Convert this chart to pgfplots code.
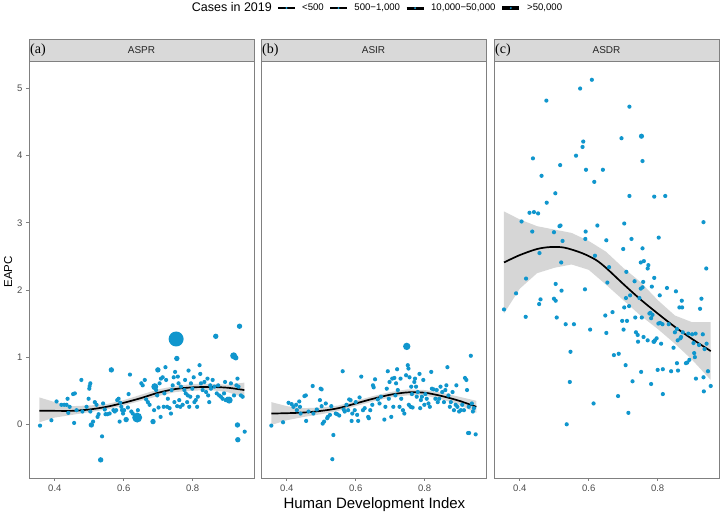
\documentclass[border=0pt]{standalone}
\usepackage{fontspec}
\setmainfont{Liberation Sans}
\newfontfamily\panelserif{Liberation Serif}
\usepackage{pgfplots}
\pgfplotsset{compat=1.18}
\definecolor{ptblue}{RGB}{16,150,205}
\definecolor{framegray}{RGB}{128,128,128}
\definecolor{stripfill}{RGB}{217,217,217}
\definecolor{ticktext}{RGB}{77,77,77}
\pgfplotsset{
 panel/.style={
  scale only axis, width=225pt, height=417pt, anchor=south west,
  xmin=0.325, xmax=0.978, ymin=-0.80, ymax=5.41,
  xtick={0.4,0.6,0.8}, xticklabels={0.4,0.6,0.8},
  tick align=outside, major tick length=3pt,
  xtick pos=bottom, ytick pos=left,
  axis line style={framegray, line width=0.9pt},
  tick style={framegray, line width=0.7pt},
  ticklabel style={font=\fontsize{9.5}{11}\selectfont, text=ticktext},
  /pgf/number format/assume math mode=true,
 },
 pts/.style={only marks, mark=*, mark size=#1, color=ptblue, mark options={solid, fill=ptblue, draw opacity=0}, forget plot},
 ribbon/.style={draw=none, fill=black!40, fill opacity=0.4, forget plot},
 fit/.style={black, line width=1.7pt, smooth, no marks, forget plot},
 key/.style={black, line width=#1, mark=*, mark size=1.1pt, mark options={solid, fill=ptblue, draw opacity=0}},
}
\begin{document}
\begin{tikzpicture}
\useasboundingbox (0,0) rectangle (723pt,519pt);
% ---------------- (a) ASPR
\begin{axis}[panel, name=pa, at={(29pt,41pt)}, ytick={0,1,2,3,4,5},
  ylabel={EAPC}, ylabel style={font=\fontsize{11.5}{13}\selectfont, at={(axis description cs:-0.093,0.494)}, anchor=center},
  legend style={at={(axis description cs:1.538,1.127)}, anchor=center, draw=none, fill=none,
    legend columns=-1, font=\fontsize{9.6}{11}\selectfont,
    /tikz/every odd column/.append style={column sep=4pt},
    /tikz/every even column/.append style={column sep=3pt}},
  legend cell align=left]
\addlegendimage{empty legend}
\addlegendimage{key=2.2pt}
\addlegendimage{key=2.6pt}
\addlegendimage{key=3.0pt}
\addlegendimage{key=3.6pt}
\addlegendentry{\fontsize{12.5}{14}\selectfont Cases in 2019}
\addlegendentry{<500}
\addlegendentry{500−1,000}
\addlegendentry{10,000−50,000}
\addlegendentry{>50,000}
\addplot[pts=2.1pt] coordinates {
(0.357,-0.02) (0.390,0.06) (0.405,0.34) (0.419,0.29) (0.427,0.29) (0.434,0.29) (0.437,0.38)
(0.443,0.26) (0.439,0.17) (0.453,0.45) (0.458,0.46) (0.456,0.02) (0.463,0.21) (0.477,0.66)
(0.480,0.19) (0.492,0.26) (0.498,0.38) (0.501,0.57) (0.503,0.61) (0.500,0.53) (0.503,0.19)
(0.511,0.04) (0.516,0.33) (0.521,0.29) (0.524,0.11) (0.527,0.15) (0.537,-0.18) (0.540,0.31)
(0.545,0.22) (0.547,0.15) (0.552,0.15) (0.559,0.16) (0.570,0.21) (0.574,0.19) (0.578,0.21)
(0.581,0.36) (0.585,0.38) (0.588,0.04) (0.590,0.32) (0.593,0.26) (0.595,0.21) (0.598,0.16)
(0.601,0.21) (0.612,0.25) (0.614,0.45) (0.618,0.74) (0.622,0.19) (0.626,0.16) (0.641,0.21)
(0.651,0.61) (0.655,0.58) (0.661,0.66) (0.665,0.37) (0.670,0.33) (0.675,0.29) (0.688,0.21)
(0.694,0.51) (0.697,0.43) (0.701,0.25) (0.704,0.61) (0.707,0.11) (0.708,0.68) (0.713,0.70)
(0.716,0.26) (0.718,0.46) (0.721,0.85) (0.723,0.66) (0.726,0.26) (0.728,0.38) (0.733,0.24)
(0.737,0.16) (0.739,0.51) (0.742,0.58) (0.745,0.70) (0.747,0.33) (0.749,0.78) (0.755,0.27)
(0.757,0.71) (0.759,0.61) (0.761,0.36) (0.764,0.26) (0.766,0.56) (0.771,0.29) (0.776,0.51)
(0.778,0.66) (0.780,0.46) (0.784,0.33) (0.786,0.43) (0.788,0.80) (0.790,0.26) (0.793,0.41)
(0.795,0.61) (0.799,0.53) (0.803,0.70) (0.805,0.33) (0.809,0.36) (0.813,0.26) (0.815,0.41)
(0.820,0.88) (0.822,0.75) (0.824,0.61) (0.829,0.51) (0.834,0.63) (0.839,0.48) (0.843,0.68)
(0.845,0.43) (0.848,0.33) (0.851,0.58) (0.853,0.53) (0.858,0.66) (0.863,0.56) (0.870,0.46)
(0.874,0.58) (0.877,0.43) (0.882,0.41) (0.887,0.38) (0.891,0.46) (0.894,0.63) (0.896,0.36)
(0.901,0.38) (0.911,0.61) (0.920,0.43) (0.927,0.58) (0.930,0.68) (0.933,0.56) (0.940,0.43)
(0.945,0.41) (0.951,-0.11)
};
\addplot[pts=2.7pt] coordinates {
(0.506,-0.01) (0.533,-0.53) (0.564,0.81) (0.607,0.07) (0.685,0.04) (0.699,0.81) (0.754,0.98)
(0.867,1.31) (0.925,0.99) (0.930,-0.01) (0.931,-0.23) (0.936,1.46)
};
\addplot[pts=3.5pt] coordinates {(0.690,0.56) (0.919,1.02) (0.906,0.36)};
\addplot[pts=5pt] coordinates {(0.639,0.10)};
\addplot[pts=7.5pt] coordinates {(0.752,1.27)};
\addplot[ribbon] coordinates {
(0.355,0.40) (0.40,0.33) (0.45,0.27) (0.50,0.28) (0.55,0.30) (0.60,0.36) (0.65,0.44) (0.70,0.52)
(0.75,0.57) (0.80,0.60) (0.85,0.60) (0.90,0.59) (0.95,0.62)
(0.95,0.40) (0.90,0.48) (0.85,0.51) (0.80,0.50) (0.75,0.48) (0.70,0.42) (0.65,0.35) (0.60,0.28)
(0.55,0.22) (0.50,0.18) (0.45,0.14) (0.40,0.10) (0.355,0.03)
} -- cycle;
\addplot[fit] coordinates {
(0.355,0.20) (0.40,0.20) (0.45,0.20) (0.50,0.22) (0.55,0.26) (0.60,0.32) (0.65,0.39) (0.70,0.47)
(0.75,0.525) (0.80,0.55) (0.85,0.555) (0.90,0.545) (0.95,0.51)
};
\end{axis}
\draw[framegray, line width=0.9pt, fill=stripfill] (pa.north west) rectangle ([yshift=22pt]pa.north east);
\node[font=\fontsize{10}{12}\selectfont, text=black!85] at ([yshift=11pt]pa.north) {ASPR};
\node[font=\panelserif\fontsize{14}{16}\selectfont, anchor=west, inner sep=1pt] at ([yshift=11pt]pa.north west) {(a)};
% ---------------- (b) ASIR
\begin{axis}[panel, name=pb, at={(261pt,41pt)}, ytick=\empty,
  xlabel={Human Development Index}, xlabel style={font=\fontsize{15}{18}\selectfont, at={(axis description cs:0.504,-0.065)}, anchor=center}]
\addplot[pts=2.1pt] coordinates {
(0.355,-0.02) (0.389,0.03) (0.405,0.32) (0.414,0.30) (0.419,0.26) (0.427,0.29) (0.429,0.21)
(0.436,0.34) (0.438,0.26) (0.440,0.16) (0.451,0.42) (0.455,0.43) (0.456,0.05) (0.463,0.19)
(0.475,0.57) (0.477,0.16) (0.487,0.22) (0.496,0.36) (0.498,0.53) (0.501,0.52) (0.504,0.01)
(0.501,0.27) (0.508,0.04) (0.513,0.31) (0.517,0.09) (0.519,0.11) (0.525,0.14) (0.529,0.27)
(0.535,-0.16) (0.532,-0.52) (0.542,0.16) (0.546,0.15) (0.552,0.13) (0.562,0.79) (0.565,0.22)
(0.568,0.19) (0.573,0.29) (0.578,0.21) (0.581,0.37) (0.585,0.36) (0.588,0.05) (0.590,0.16)
(0.597,0.21) (0.600,0.33) (0.604,0.14) (0.607,0.05) (0.611,0.40) (0.616,0.71) (0.621,0.21)
(0.626,0.24) (0.636,0.11) (0.638,0.09) (0.642,0.21) (0.648,0.29) (0.650,0.58) (0.652,0.55)
(0.656,0.67) (0.664,0.37) (0.669,0.31) (0.673,0.41) (0.683,0.07) (0.686,0.26) (0.690,0.53)
(0.693,0.79) (0.696,0.38) (0.698,0.63) (0.703,0.11) (0.706,0.68) (0.709,0.26) (0.712,0.69)
(0.715,0.43) (0.717,0.61) (0.720,0.82) (0.722,0.51) (0.727,0.26) (0.730,0.68) (0.732,0.38)
(0.737,0.21) (0.741,0.16) (0.746,0.73) (0.751,0.88) (0.753,0.83) (0.754,0.29) (0.756,0.70)
(0.759,0.26) (0.761,0.56) (0.763,0.45) (0.765,0.25) (0.770,0.63) (0.772,0.68) (0.775,0.56)
(0.777,0.41) (0.780,0.48) (0.785,0.75) (0.787,0.24) (0.789,0.36) (0.792,0.41) (0.796,0.66)
(0.799,0.29) (0.802,0.45) (0.806,0.38) (0.811,0.31) (0.815,0.26) (0.819,0.78) (0.821,0.53)
(0.826,0.52) (0.831,0.38) (0.835,0.51) (0.838,0.33) (0.842,0.38) (0.846,0.56) (0.851,0.48)
(0.856,0.33) (0.860,0.51) (0.863,0.58) (0.866,0.85) (0.869,0.43) (0.873,0.26) (0.876,0.33)
(0.881,0.48) (0.885,0.21) (0.890,0.29) (0.892,0.58) (0.895,0.26) (0.900,0.19) (0.905,0.21)
(0.909,0.29) (0.914,0.21) (0.917,0.69) (0.921,0.66) (0.923,0.51) (0.926,-0.13) (0.929,-0.13)
(0.928,0.26) (0.934,1.02) (0.937,0.31) (0.940,0.19) (0.943,0.24) (0.948,-0.15)
};
\addplot[pts=3.7pt] coordinates {(0.748,1.16)};
\addplot[ribbon] coordinates {
(0.355,0.33) (0.40,0.27) (0.45,0.24) (0.50,0.25) (0.55,0.28) (0.60,0.35) (0.65,0.42) (0.70,0.48)
(0.75,0.52) (0.80,0.51) (0.85,0.47) (0.90,0.41) (0.95,0.35)
(0.95,0.17) (0.90,0.29) (0.85,0.37) (0.80,0.43) (0.75,0.43) (0.70,0.40) (0.65,0.34) (0.60,0.27)
(0.55,0.20) (0.50,0.15) (0.45,0.11) (0.40,0.06) (0.355,-0.01)
} -- cycle;
\addplot[fit] coordinates {
(0.355,0.16) (0.40,0.165) (0.45,0.175) (0.50,0.20) (0.55,0.24) (0.60,0.31) (0.65,0.38) (0.70,0.44)
(0.75,0.475) (0.80,0.47) (0.85,0.42) (0.90,0.35) (0.95,0.26)
};
\end{axis}
\draw[framegray, line width=0.9pt, fill=stripfill] (pb.north west) rectangle ([yshift=22pt]pb.north east);
\node[font=\fontsize{10}{12}\selectfont, text=black!85] at ([yshift=11pt]pb.north) {ASIR};
\node[font=\panelserif\fontsize{14}{16}\selectfont, anchor=west, inner sep=1pt] at ([yshift=11pt]pb.north west) {(b)};
% ---------------- (c) ASDR
\begin{axis}[panel, name=pc, at={(494pt,41pt)}, ytick=\empty]
\addplot[pts=2.1pt] coordinates {
(0.609,5.13) (0.575,5.00) (0.477,4.82) (0.718,4.73) (0.695,4.26) (0.584,4.21) (0.582,4.13)
(0.438,3.96) (0.563,4.00) (0.756,3.92) (0.517,3.86) (0.592,3.79) (0.641,3.79) (0.463,3.70)
(0.616,3.61) (0.503,3.44) (0.718,3.40) (0.790,3.39) (0.822,3.40) (0.478,3.30) (0.428,3.15)
(0.441,3.16) (0.453,3.14) (0.405,3.02) (0.518,2.96) (0.515,2.95) (0.625,2.96) (0.703,2.99)
(0.933,3.01) (0.436,2.87) (0.499,2.86) (0.591,2.87) (0.524,2.73) (0.590,2.76) (0.651,2.74)
(0.724,2.76) (0.803,2.78) (0.457,2.55) (0.618,2.51) (0.700,2.61) (0.756,2.62) (0.520,2.41)
(0.659,2.34) (0.751,2.41) (0.760,2.43) (0.773,2.37) (0.771,2.32) (0.941,2.32) (0.709,2.27)
(0.790,2.18) (0.418,2.17)
(0.354,1.71) (0.389,1.95) (0.417,1.60) (0.456,1.79) (0.460,1.86) (0.504,2.09) (0.521,1.99)
(0.499,1.87) (0.504,1.84) (0.507,1.59) (0.533,1.49) (0.557,1.49) (0.589,2.01) (0.547,1.08)
(0.545,0.63) (0.536,0.00) (0.604,1.41) (0.614,0.31) (0.654,2.11) (0.648,1.62) (0.651,1.36)
(0.669,1.67) (0.673,1.03) (0.687,1.05) (0.685,0.42) (0.697,1.54) (0.701,1.41) (0.703,1.74)
(0.708,1.88) (0.711,1.54) (0.707,0.88) (0.715,0.17) (0.717,1.76) (0.720,1.92) (0.727,0.64)
(0.733,2.13) (0.735,1.59) (0.737,1.37) (0.742,1.33) (0.743,1.23) (0.747,1.88) (0.751,2.02)
(0.754,1.59) (0.756,2.04) (0.758,2.12) (0.759,1.30) (0.752,0.78) (0.771,1.25) (0.776,1.65)
(0.779,1.66) (0.781,1.58) (0.783,2.05) (0.785,1.63) (0.788,1.23) (0.781,0.60) (0.790,1.23)
(0.792,1.25) (0.797,1.28) (0.800,0.81) (0.802,1.50) (0.806,1.92) (0.807,1.51) (0.810,1.20)
(0.814,1.49) (0.815,0.82) (0.815,0.45) (0.827,2.03) (0.832,1.49) (0.839,0.79) (0.846,1.14)
(0.850,1.37) (0.853,1.98) (0.856,1.42) (0.858,1.25) (0.859,0.80) (0.856,0.91) (0.863,1.74)
(0.866,1.28) (0.868,1.30) (0.870,1.84) (0.871,1.74) (0.873,1.37) (0.882,0.91) (0.886,0.92)
(0.889,1.35) (0.892,0.96) (0.900,1.34) (0.904,1.21) (0.906,1.06) (0.908,1.00) (0.910,1.35)
(0.911,0.68) (0.920,1.18) (0.923,1.72) (0.927,1.87) (0.931,1.34) (0.933,0.70) (0.934,0.49)
(0.936,1.12) (0.942,1.20) (0.946,0.79) (0.954,0.57)
};
\addplot[pts=2.6pt] coordinates {(0.753,4.29)};
\addplot[ribbon] coordinates {
(0.354,3.17) (0.40,3.05) (0.45,2.95) (0.50,2.90) (0.55,2.85) (0.60,2.73) (0.65,2.57) (0.70,2.33)
(0.75,2.12) (0.80,1.85) (0.85,1.62) (0.90,1.52) (0.954,1.52)
(0.954,0.66) (0.90,0.96) (0.85,1.20) (0.80,1.42) (0.75,1.62) (0.70,1.85) (0.65,2.08) (0.60,2.30)
(0.55,2.38) (0.50,2.33) (0.45,2.25) (0.40,2.02) (0.354,1.65)
} -- cycle;
\addplot[fit] coordinates {
(0.354,2.41) (0.40,2.52) (0.45,2.61) (0.49,2.64) (0.53,2.63) (0.58,2.55) (0.62,2.45) (0.65,2.33)
(0.70,2.09) (0.75,1.86) (0.80,1.65) (0.85,1.45) (0.90,1.27) (0.954,1.09)
};
\end{axis}
\draw[framegray, line width=0.9pt, fill=stripfill] (pc.north west) rectangle ([yshift=22pt]pc.north east);
\node[font=\fontsize{10}{12}\selectfont, text=black!85] at ([yshift=11pt]pc.north) {ASDR};
\node[font=\panelserif\fontsize{14}{16}\selectfont, anchor=west, inner sep=1pt] at ([yshift=11pt]pc.north west) {(c)};
\end{tikzpicture}
\end{document}
